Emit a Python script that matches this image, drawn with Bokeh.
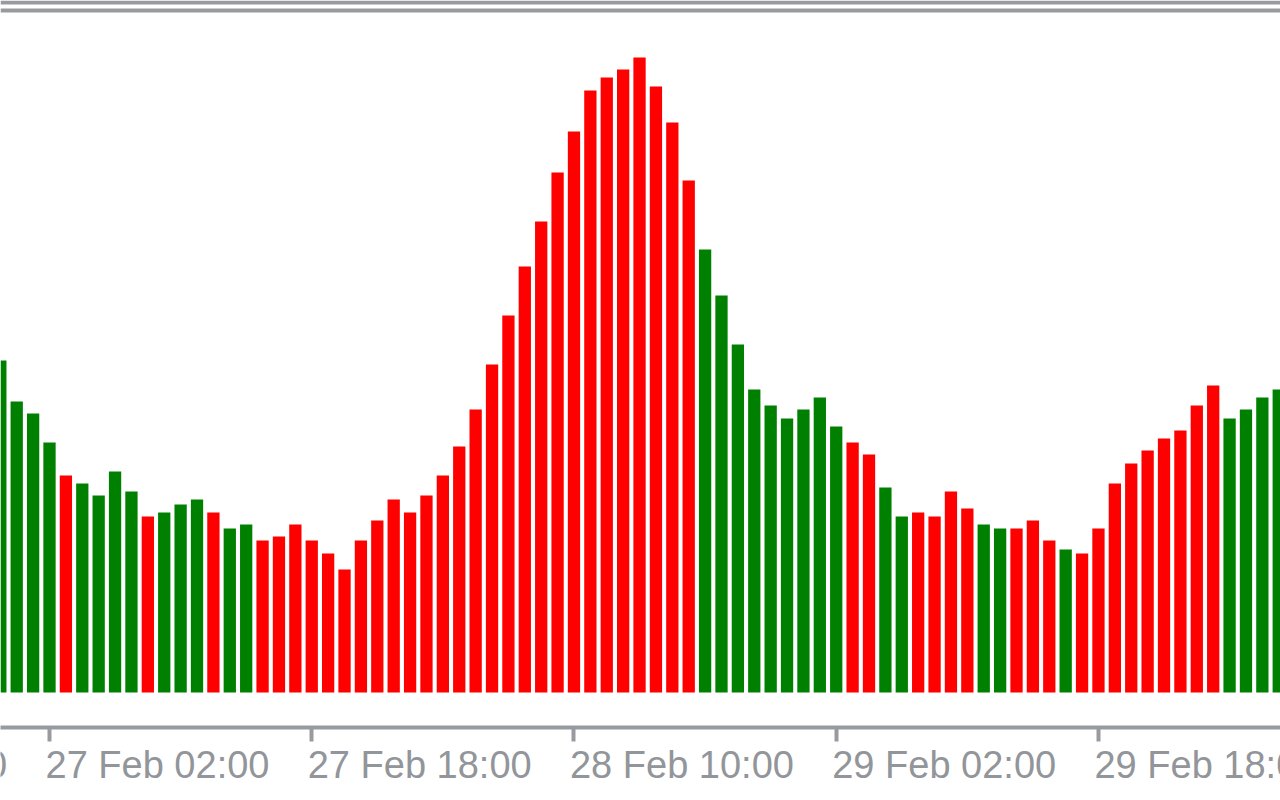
import pandas as pd
from bokeh.plotting import figure
from bokeh.layouts import column
from bokeh.models import (Range1d, FixedTicker, Span, ColumnDataSource,
                          CustomJSTickFormatter)
from bokeh.core.properties import value
from bokeh.embed import file_html
from bokeh.resources import INLINE

# ---- data ----
first_bar_time = "2024-02-26 23:00"   # hourly bars
bar_values = [
    332, 291, 279, 250, 217, 209, 197, 221, 201, 176,
    180, 188, 193, 180, 164, 168, 152, 156, 168, 152,
    139, 123, 152, 172, 193, 180, 197, 217, 246, 283,
    328, 377, 426, 471, 520, 561, 602, 615, 623, 635,
    606, 570, 512, 443, 397, 348, 303, 287, 274, 283,
    295, 266, 250, 238, 205, 176, 180, 176, 201, 184,
    168, 164, 164, 172, 152, 143, 139, 164, 209, 229,
    242, 254, 262, 287, 307, 274, 283, 295, 303,
]
bar_direction = list(
    "GGGGRGGGGRGGGRGG"
    "RRRRRRRRRRRRRRRRRRRRRRRRRRR"
    "GGGGGGGGG"
    "RRGGRRRRGGRRRGRRRRRRRRRGGGG"
)
tick_times = [
    "2024-02-26 10:00", "2024-02-27 02:00", "2024-02-27 18:00",
    "2024-02-28 10:00", "2024-02-29 02:00", "2024-02-29 18:00",
]
tick_label_format = "%d %b %H:%M"

colors = {"G": "#008000", "R": "#ff0000"}

times = pd.date_range(first_bar_time, periods=len(bar_values), freq="h")
src = ColumnDataSource(dict(
    x=times,
    top=bar_values,
    color=[colors[d] for d in bar_direction],
))
tick_stamps = [pd.Timestamp(t) for t in tick_times]

# ---- layout ----
W = 1280
H_MAIN, H_LABELS = 745, 55
px_per_hour = 16.39
anchor = pd.Timestamp("2024-02-27 02:00")
anchor_px = 49
x_start = anchor - pd.Timedelta(hours=anchor_px / px_per_hour)
x_end = anchor + pd.Timedelta(hours=(W - anchor_px) / px_per_hour)
xr = Range1d(x_start, x_end)

p = figure(
    width=W, height=H_MAIN,
    x_axis_type="datetime", y_axis_location=None,
    x_range=xr, y_range=Range1d(-35, 692),
    output_backend="svg", toolbar_location=None,
    min_border_left=0, min_border_right=0, min_border_top=0, min_border_bottom=18,
    background_fill_color="white", border_fill_color="white",
    outline_line_color=None,
)
p.grid.visible = False

p.vbar(x="x", top="top", bottom=0, width=0.75 * 3600 * 1000,
       color="color", source=src, line_color=None)

grey = "#979b9f"
for loc in (690, 682):
    p.add_layout(Span(location=loc, dimension="width", line_color=grey, line_width=4))

ax = p.xaxis[0]
ax.ticker = FixedTicker(ticks=[t.value // 10**6 for t in tick_stamps])
ax.formatter = CustomJSTickFormatter(code="return ''")
ax.axis_line_color = grey
ax.axis_line_width = 4
ax.major_tick_line_color = grey
ax.major_tick_line_width = 4
ax.major_tick_out = 14
ax.major_tick_in = 0
ax.minor_tick_line_color = None
ax.major_label_text_font_size = "0px"
ax.major_label_standoff = 0

# ---- tick labels: a strip below, sharing the time scale, left-aligned at ticks ----
q = figure(
    width=W, height=H_LABELS,
    x_axis_location=None, y_axis_location=None,
    x_range=xr, y_range=Range1d(0, H_LABELS),
    output_backend="svg", toolbar_location=None,
    min_border=0, background_fill_color="white", border_fill_color="white",
    outline_line_color=None,
)
q.grid.visible = False
q.text(
    x=tick_stamps, y=[36] * len(tick_stamps),
    text=[t.strftime(tick_label_format) for t in tick_stamps],
    x_offset=-4, text_align="left", text_baseline="alphabetic",
    text_font=value("Liberation Sans"), text_font_size="38px",
    text_color="#929599",
)

layout = column(p, q, spacing=0)
open("out.html", "w").write(file_html(layout, INLINE))
